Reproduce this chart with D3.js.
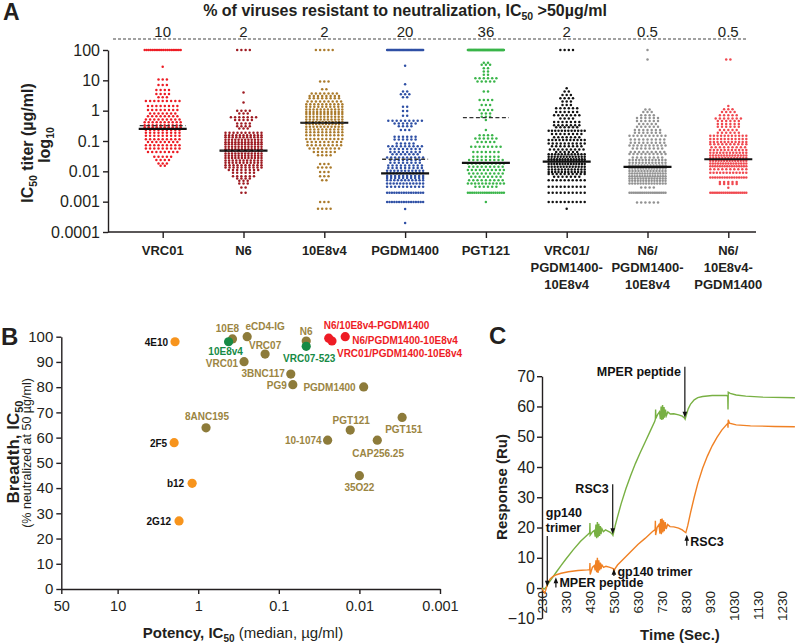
<!DOCTYPE html>
<html><head><meta charset="utf-8">
<script src="https://cdn.jsdelivr.net/npm/d3@7"></script>
<style>
body{margin:0;background:#fff;}
svg{display:block;font-family:"Liberation Sans",Arial,Helvetica,sans-serif;}
</style></head><body>
<script>
// ================= DATA =================
// ---- Panel A: IC50 titers, binned rows [log10 IC50 (ug/ml), number of viruses]
const catsA = ["VRC01","N6","10E8v4","PGDM1400","PGT121","VRC01/PGDM1400-10E8v4","N6/PGDM1400-10E8v4","N6/10E8v4-PGDM1400"];
const catLinesA = [["VRC01"],["N6"],["10E8v4"],["PGDM1400"],["PGT121"],["VRC01/","PGDM1400-","10E8v4"],["N6/","PGDM1400-","10E8v4"],["N6/","10E8v4-","PGDM1400"]];
const resistantPctA = ["10","2","2","20","36","2","0.5","0.5"];
const medianA = [0.25,0.048,0.40,0.0085,0.019,0.021,0.014,0.025];
const dashA = [0.32,0.048,0.40,0.025,0.59,null,null,null];
const yTicksA = [100,10,1,0.1,0.01,0.001,0.0001];
const yTickLabelsA = ["100","10","1","0.1","0.01","0.001","0.0001"];

const rowsVRC01 = [[2,20],[1.45,1],[1.03,3],[0.85,3],[0.68,4],[0.55,4],[0.44,3],[0.32,9],[0.15,8],[0.02,8],[-0.09,7],[-0.18,8],[-0.29,9],[-0.38,10],[-0.48,10],[-0.55,10],[-0.64,9],[-0.73,9],[-0.83,9],[-0.94,9],[-1.03,8],[-1.14,9],[-1.25,9],[-1.36,8],[-1.52,5],[-1.63,4],[-1.74,3],[-1.82,2]];
const rowsN6 = [[2,4],[0.60,1],[0.27,1],[0.00,4],[-0.09,3],[-0.22,7],[-0.31,5],[-0.42,4],[-0.51,4],[-0.59,3],[-0.73,10],[-0.81,11],[-0.88,11],[-0.96,12],[-1.04,12],[-1.11,12],[-1.19,12],[-1.27,12],[-1.33,13],[-1.41,12],[-1.49,12],[-1.56,12],[-1.64,11],[-1.72,11],[-1.80,10],[-1.87,10],[-1.96,8],[-2.05,6],[-2.16,6],[-2.24,4],[-2.31,3],[-2.40,3],[-2.53,2],[-2.71,2]];
const rows10E8v4 = [[2,5],[0.96,3],[0.71,2],[0.57,7],[0.48,8],[0.41,8],[0.30,9],[0.21,10],[0.13,10],[0.04,11],[-0.04,11],[-0.11,11],[-0.20,11],[-0.29,11],[-0.37,12],[-0.44,12],[-0.53,11],[-0.62,10],[-0.71,10],[-0.81,10],[-0.93,10],[-1.03,9],[-1.14,9],[-1.25,8],[-1.36,6],[-1.47,4],[-1.76,3],[-1.87,4],[-2.02,3],[-2.16,3],[-2.29,2],[-3.01,3],[-3.23,4]];
const rowsPGDM1400 = [[2,40],[1.48,1],[0.87,1],[0.63,2],[0.54,3],[0.44,2],[0.13,2],[-0.01,2],[-0.17,2],[-0.33,9],[-0.42,6],[-0.51,4],[-0.64,3],[-0.86,6],[-0.95,6],[-1.08,5],[-1.17,9],[-1.26,8],[-1.36,8],[-1.44,7],[-1.54,10],[-1.63,8],[-1.72,8],[-1.81,9],[-1.89,9],[-1.98,11],[-2.06,12],[-2.15,10],[-2.22,10],[-2.29,11],[-2.40,12],[-2.51,10],[-2.71,16],[-3.01,16],[-3.24,1],[-3.70,1]];
const rowsPGT121 = [[2,72],[1.58,2],[1.51,3],[1.40,2],[1.29,2],[1.18,2],[1.07,6],[0.96,5],[0.63,2],[0.35,4],[0.19,3],[0.02,4],[-0.09,3],[-0.20,3],[-0.31,1],[-0.64,1],[-0.81,4],[-0.92,6],[-1.03,5],[-1.19,8],[-1.36,7],[-1.52,7],[-1.63,9],[-1.74,10],[-1.85,9],[-1.96,10],[-2.07,9],[-2.18,8],[-2.29,9],[-2.40,11],[-2.51,6],[-2.71,18],[-3.01,1]];
const rowsVRC01Tri = [[2,4],[0.74,1],[0.63,2],[0.52,3],[0.41,4],[0.30,3],[0.19,3],[0.08,6],[-0.04,6],[-0.15,7],[-0.26,4],[-0.37,7],[-0.48,7],[-0.55,6],[-0.66,12],[-0.77,8],[-0.88,7],[-0.97,11],[-1.08,10],[-1.17,8],[-1.28,9],[-1.36,6],[-1.44,12],[-1.52,13],[-1.60,14],[-1.67,14],[-1.76,14],[-1.85,13],[-1.94,12],[-2.02,12],[-2.09,10],[-2.18,7],[-2.29,10],[-2.51,10],[-2.71,10],[-3.01,10],[-3.23,1]];
const rowsN6PGDM = [[2,1],[1.69,1],[0.04,2],[-0.04,3],[-0.15,4],[-0.24,6],[-0.34,6],[-0.44,5],[-0.53,6],[-0.64,7],[-0.73,7],[-0.83,10],[-0.95,9],[-1.06,9],[-1.15,10],[-1.25,8],[-1.36,9],[-1.43,10],[-1.54,8],[-1.63,12],[-1.72,12],[-1.81,13],[-1.91,14],[-1.99,13],[-2.07,15],[-2.16,15],[-2.24,14],[-2.31,14],[-2.40,14],[-2.53,4],[-2.71,20],[-3.03,6]];
const rowsN610E8 = [[1.69,2],[0.15,1],[0.05,3],[-0.04,4],[-0.15,5],[-0.26,7],[-0.34,6],[-0.44,6],[-0.53,6],[-0.64,5],[-0.73,6],[-0.83,11],[-0.93,11],[-1.03,11],[-1.11,10],[-1.21,9],[-1.30,11],[-1.39,12],[-1.48,14],[-1.56,13],[-1.65,14],[-1.74,15],[-1.83,16],[-1.93,10],[-2.05,12],[-2.20,16],[-2.35,5],[-2.42,5],[-2.54,1],[-2.71,20]];
const rowsA = [rowsVRC01,rowsN6,rows10E8v4,rowsPGDM1400,rowsPGT121,rowsVRC01Tri,rowsN6PGDM,rowsN610E8];

// ---- Panel B: potency (median IC50, ug/ml) vs breadth (%)
const bNames = ["4E10","2F5","b12","2G12","8ANC195","10E8","eCD4-IG","VRC07","VRC01","3BNC117","PG9","N6","PGDM1400","PGT121","PGT151","10-1074","CAP256.25","35O22","10E8v4","VRC07-523","N6/10E8v4-PGDM1400","VRC01/PGDM1400-10E8v4","N6/PGDM1400-10E8v4"];
const bPotency = [1.94,1.99,1.19,1.73,0.80,0.376,0.247,0.148,0.27,0.071,0.067,0.0457,0.00885,0.013,0.00295,0.0248,0.006,0.010,0.42,0.0457,0.024,0.0219,0.015];
const bBreadth = [98,58,41.9,27,63.9,99.1,100,93.1,90.1,85.2,81,98.3,80.1,63,68,59,59,44.9,98,96.2,99.4,98.3,100];
const bGroup = ["first","first","first","first","bnab","bnab","bnab","bnab","bnab","bnab","bnab","bnab","bnab","bnab","bnab","bnab","bnab","bnab","eng","eng","tri","tri","tri"];
const xTicksB = [50,10,1,0.1,0.01,0.001];
const xTickLabelsB = ["50","10","1","0.1","0.01","0.001"];
const yTicksB = [0,10,20,30,40,50,60,70,80,90,100];

// ---- Panel C: SPR sensorgrams [time (s), response (RU)]
const greenCurve = [[230,0],[240,-0.3],[248,0.3],[256,1.5],[270,3],[290,5.3],[310,7.5],[330,9.6],[360,12.6],[390,15.4],[420,17.6],[429,18.3],[430,21.5],[431,17.5],[440,18.5],[448,19],[452,17],[455,21],[458,16.5],[461,21.8],[464,16.8],[467,21.2],[470,17.2],[473,20.5],[476,17.8],[480,19.6],[486,18.6],[495,19.2],[505,18.8],[515,18.4],[523,17.8],[526,17.4],[535,20.5],[545,23.5],[560,27.8],[580,32.8],[600,37.2],[620,41.2],[640,44.8],[660,48.2],[680,51.6],[700,55],[703,55.8],[704,59],[705,56],[712,57.3],[720,58.2],[724,55.8],[727,60],[730,55.5],[733,60.5],[736,55.8],[739,59.8],[742,56.3],[745,59],[749,57],[755,58.2],[765,57.5],[780,57.6],[800,57.2],[815,56.8],[824,56.2],[827,55.8],[832,57.2],[840,59.2],[850,60.8],[865,62.2],[880,62.9],[900,63.3],[940,63.6],[1000,63.6],[1005,63.4],[1006,59],[1007,64.7],[1015,64.3],[1040,63.8],[1080,63.4],[1150,63.1],[1285,62.9]];
const orangeCurve = [[230,0],[236,-1],[241,-1.6],[245,-0.8],[250,0.6],[256,2],[264,3],[275,3.8],[290,4.4],[310,4.9],[340,5.4],[380,5.8],[420,6],[429,6.1],[430,8.3],[431,4.5],[440,6.8],[448,7.4],[452,5.8],[455,9.2],[458,5.2],[461,10],[464,5],[467,9.2],[470,5.8],[473,8.4],[476,6.3],[480,7.6],[487,6.8],[497,7.2],[510,6.9],[522,6.6],[528,6.4],[530,4.8],[533,6.2],[545,7.6],[570,9.6],[600,12],[630,14.4],[660,16.4],[690,18.6],[702,19.3],[703,22.2],[704,17.5],[710,20],[718,21],[722,18],[725,22.8],[728,17.8],[731,23],[734,18.4],[737,22.4],[740,18.8],[744,21.8],[748,19.5],[754,21],[764,20.3],[780,20.2],[800,19.8],[815,19.2],[826,18.5],[830,18.3],[838,20.6],[850,25],[865,30],[880,34.6],[900,39.6],[920,43.6],[940,47],[960,49.8],[980,52.2],[1000,54],[1005,54.4],[1006,53],[1007,55.6],[1012,54.5],[1040,53.9],[1100,53.6],[1200,53.4],[1285,53.3]];
const xTicksC = [230,330,430,530,630,730,830,930,1030,1130,1230];
const xTickLabelsC = ["230","330","430","530","630","730","830","930","1030","1130","1230"];
const yTicksC = [-10,0,10,20,30,40,50,60,70];
// injection events: label lines, time, arrow tip response, arrow tail response
const eventLabels = [["MPER peptide"],["RSC3"],["gp140","trimer"],["MPER peptide"],["gp140 trimer"],["RSC3"]];
const eventTime = [826,525,252,288,530,834];
const eventTip = [56.3,17.8,0.4,3.6,6.4,17.6];
const eventTail = [73.1,34.3,17.2,0.2,4.0,14.0];

// ================= STYLE / LAYOUT =================
const INK = "#231f20";
const colorsA = ["#ed1c24","#9e1b22","#ab7b2c","#2f50a5","#3ab54a","#111111","#929292","#f04950"];
const groupFill = {first:"#f7941d", bnab:"#8d7b3a", eng:"#178a45", tri:"#ee1c25"};
const groupText = {first:"#111111", bnab:"#9b8542", eng:"#178a45", tri:"#ee1c25"};
const labAnchor = ["end","end","end","end","middle","middle","middle","middle","end","end","end","middle","end","middle","start","end","start","middle","middle","middle","start","start","start"];
const labDx = [-7,-7,-8,-8,1,-5,18,0,-6,-6,-6,0,-8,1,-17,-6,-25,0,-3,3,-5,5,7];
const labDy = [4.5,4,4,4,-8,-7,-7,-5,5,3,4,-5.5,4,-6,16,4,17,15,13.5,15.5,-9,15.7,7];

const svg = d3.select("body").append("svg").attr("width",800).attr("height",644);

function styleAxis(g, size){
  g.selectAll("path.domain").attr("stroke",INK).attr("stroke-width",1.4);
  g.selectAll(".tick line").attr("stroke",INK).attr("stroke-width",1.4);
  g.selectAll(".tick text").attr("fill",INK).attr("font-size",size).attr("font-family",null);
}

// ================= PANEL A =================
const yA = d3.scaleLog().domain([1e-4,100]).range([232,50]);
const xA = d3.scalePoint().domain(catsA).range([162.7,728.3]);

svg.append("text").attr("x",3).attr("y",20).attr("font-size",23).attr("font-weight","bold").attr("fill",INK).text("A");

const tA = svg.append("text").attr("x",405).attr("y",16).attr("text-anchor","middle").attr("font-size",16).attr("font-weight","bold").attr("fill",INK);
tA.append("tspan").text("% of viruses resistant to neutralization, IC");
tA.append("tspan").attr("font-size",10.5).attr("dy",4).text("50");
tA.append("tspan").attr("dy",-4).text(" >50\u00b5g/ml");

svg.append("line").attr("x1",113).attr("x2",747).attr("y1",39).attr("y2",39)
  .attr("stroke","#444").attr("stroke-width",1).attr("stroke-dasharray","3,2");

svg.append("g").selectAll("text").data(catsA).join("text")
  .attr("x",d=>xA(d)).attr("y",37).attr("text-anchor","middle").attr("font-size",15).attr("fill",INK)
  .text((d,i)=>resistantPctA[i]);

const axAy = svg.append("g").attr("transform","translate(108,0)")
  .call(d3.axisLeft(yA).tickValues(yTicksA).tickFormat((d,i)=>yTickLabelsA[i]).tickSize(5).tickSizeOuter(0).tickPadding(3));
styleAxis(axAy,16);

const axAx = svg.append("g").attr("transform","translate(0,232)")
  .call(d3.axisBottom(xA).tickSize(6).tickFormat(""));
axAx.select("path.domain").remove();
axAx.append("line").attr("x1",108).attr("x2",756).attr("y1",0).attr("y2",0);
axAx.selectAll("line").attr("stroke",INK).attr("stroke-width",1.4);

const catLab = svg.append("g").selectAll("text").data(catsA).join("text")
  .attr("x",d=>xA(d)).attr("y",255).attr("text-anchor","middle").attr("font-size",13).attr("font-weight","bold").attr("fill",INK);
catLab.each(function(d,i){
  const t = d3.select(this);
  catLinesA[i].forEach((ln,j)=>t.append("tspan").attr("x",xA(d)).attr("dy",j?17:0).text(ln));
});

// y label
const ylA = svg.append("text").attr("transform","translate(33,143) rotate(-90)").attr("text-anchor","middle")
  .attr("font-size",16).attr("font-weight","bold").attr("fill",INK);
ylA.append("tspan").text("IC");
ylA.append("tspan").attr("font-size",10.5).attr("dy",4).text("50");
ylA.append("tspan").attr("dy",-4).text(" titer (\u00b5g/ml)");
const ylA2 = svg.append("text").attr("transform","translate(50,145) rotate(-90)").attr("text-anchor","middle")
  .attr("font-size",16).attr("font-weight","bold").attr("fill",INK);
ylA2.append("tspan").text("log");
ylA2.append("tspan").attr("font-size",10.5).attr("dy",4).text("10");

// dots
const gDots = svg.append("g");
catsA.forEach((c,ci)=>{
  const cx = xA(c);
  const pts = [];
  rowsA[ci].forEach(([lg,n])=>{
    const sp = n>1 ? Math.min(4.2, 36/(n-1)) : 0;
    for(let i=0;i<n;i++) pts.push({dx:(i-(n-1)/2)*sp, v:Math.pow(10,lg)});
  });
  gDots.append("g").selectAll("circle").data(pts).join("circle")
    .attr("cx",d=>cx+d.dx).attr("cy",d=>yA(d.v)).attr("r",1.25).attr("fill",colorsA[ci]);
});
// medians & dashed lines
svg.append("g").selectAll("line").data(catsA).join("line")
  .attr("x1",d=>xA(d)-24).attr("x2",d=>xA(d)+24)
  .attr("y1",(d,i)=>yA(medianA[i])).attr("y2",(d,i)=>yA(medianA[i]))
  .attr("stroke","#111").attr("stroke-width",2.2);
svg.append("g").selectAll("line").data(catsA.filter((d,i)=>dashA[i]!=null)).join("line")
  .attr("x1",d=>xA(d)-23).attr("x2",d=>xA(d)+23)
  .attr("y1",d=>yA(dashA[catsA.indexOf(d)])).attr("y2",d=>yA(dashA[catsA.indexOf(d)]))
  .attr("stroke","#333").attr("stroke-width",1.3).attr("stroke-dasharray","4,2.5");

// ================= PANEL B =================
const xB = d3.scaleLog().domain([50,0.001]).range([61.3,440]);
const yB = d3.scaleLinear().domain([0,100]).range([589,336.7]);

svg.append("text").attr("x",1).attr("y",345).attr("font-size",24).attr("font-weight","bold").attr("fill",INK).text("B");

const axBy = svg.append("g").attr("transform","translate(61.3,0)")
  .call(d3.axisLeft(yB).tickValues(yTicksB).tickSize(5).tickSizeOuter(0).tickPadding(3));
styleAxis(axBy,15);
const axBx = svg.append("g").attr("transform","translate(0,589)")
  .call(d3.axisBottom(xB).tickValues(xTicksB).tickFormat((d,i)=>xTickLabelsB[i]).tickSize(5).tickSizeOuter(0).tickPadding(7));
styleAxis(axBx,14.5);

const xlB = svg.append("text").attr("x",243).attr("y",638).attr("text-anchor","middle").attr("font-size",15).attr("fill",INK);
xlB.append("tspan").attr("font-weight","bold").text("Potency, IC");
xlB.append("tspan").attr("font-weight","bold").attr("font-size",10).attr("dy",4).text("50");
xlB.append("tspan").attr("dy",-4).text(" (median, \u00b5g/ml)");

const ylB = svg.append("text").attr("transform","translate(19,452) rotate(-90)").attr("text-anchor","middle")
  .attr("font-size",17).attr("font-weight","bold").attr("fill",INK);
ylB.append("tspan").text("Breadth, IC");
ylB.append("tspan").attr("font-size",11).attr("dy",4).text("50");
svg.append("text").attr("transform","translate(31,453) rotate(-90)").attr("text-anchor","middle")
  .attr("font-size",12.5).attr("fill",INK).text("(% neutralized at 50 \u00b5g/ml)");

const order = ["first","bnab","eng","tri"];
const idxB = d3.range(bNames.length).sort((a,b)=>order.indexOf(bGroup[a])-order.indexOf(bGroup[b]));
svg.append("g").selectAll("circle").data(idxB).join("circle")
  .attr("cx",i=>xB(bPotency[i])).attr("cy",i=>yB(bBreadth[i])).attr("r",4.6)
  .attr("fill",i=>groupFill[bGroup[i]]);
svg.append("g").selectAll("text").data(d3.range(bNames.length)).join("text")
  .attr("x",i=>xB(bPotency[i])+labDx[i]).attr("y",i=>yB(bBreadth[i])+labDy[i])
  .attr("text-anchor",i=>labAnchor[i]).attr("font-size",10).attr("font-weight","bold")
  .attr("fill",i=>groupText[bGroup[i]]).text(i=>bNames[i]);

// ================= PANEL C =================
const xC = d3.scaleLinear().domain([230,1230]).range([542,781.7]);
const yC = d3.scaleLinear().domain([-10,70]).range([618.3,376.2]);

svg.append("text").attr("x",489).attr("y",344).attr("font-size",24).attr("font-weight","bold").attr("fill",INK).text("C");

const axCy = svg.append("g").attr("transform","translate(542,0)")
  .call(d3.axisLeft(yC).tickValues(yTicksC).tickSize(5).tickSizeOuter(0).tickPadding(2));
styleAxis(axCy,16);
const axCx = svg.append("g").attr("transform",`translate(0,${yC(0)})`)
  .call(d3.axisBottom(xC).tickValues(xTicksC).tickFormat((d,i)=>xTickLabelsC[i]).tickSize(0).tickSizeOuter(0));
axCx.select("path.domain").remove();
axCx.selectAll(".tick text").attr("transform","rotate(-90)").attr("x",-3).attr("y",0).attr("dy","0.35em")
  .attr("text-anchor","end").attr("fill",INK).attr("font-size",13.5).attr("font-family",null);

svg.append("text").attr("x",680).attr("y",640).attr("text-anchor","middle").attr("font-size",15).attr("font-weight","bold").attr("fill",INK).text("Time (Sec.)");
svg.append("text").attr("transform","translate(507,487) rotate(-90)").attr("text-anchor","middle").attr("font-size",15).attr("font-weight","bold").attr("fill",INK).text("Response (Ru)");

const lineC = d3.line().x(d=>xC(d[0])).y(d=>yC(d[1]));
svg.append("path").attr("d",lineC(greenCurve)).attr("fill","none").attr("stroke","#78b043").attr("stroke-width",1.4);
svg.append("path").attr("d",lineC(orangeCurve)).attr("fill","none").attr("stroke","#f08124").attr("stroke-width",1.4);

// arrows
const gEv = svg.append("g");
eventTime.forEach((t,i)=>{
  const x = xC(t), yTip = yC(eventTip[i]), yTail = yC(eventTail[i]);
  const down = yTip > yTail;
  gEv.append("line").attr("x1",x).attr("x2",x).attr("y1",yTail).attr("y2",down? yTip-4 : yTip+4)
    .attr("stroke","#111").attr("stroke-width",1.2);
  const s = down?-1:1;
  gEv.append("path").attr("d",`M${x},${yTip}L${x-2.3},${yTip+s*6}L${x+2.3},${yTip+s*6}Z`).attr("fill","#111");
  const lab = eventLabels[i];
  const txt = gEv.append("text").attr("font-size",12.5).attr("font-weight","bold").attr("fill","#111");
  if(i===0 || i===1){
    txt.attr("x",x-4).attr("y",yTail+9).attr("text-anchor","end").text(lab[0]);
  } else if(i===2){
    txt.attr("x",x-1.5).attr("y",yTail-19).attr("text-anchor","start");
    lab.forEach((ln,j)=>txt.append("tspan").attr("x",x-1.5).attr("dy",j?15:0).text(ln));
  } else {
    txt.attr("x",x+3.5).attr("y",yTail).attr("text-anchor","start").text(lab[0]);
  }
});
</script></body></html>
